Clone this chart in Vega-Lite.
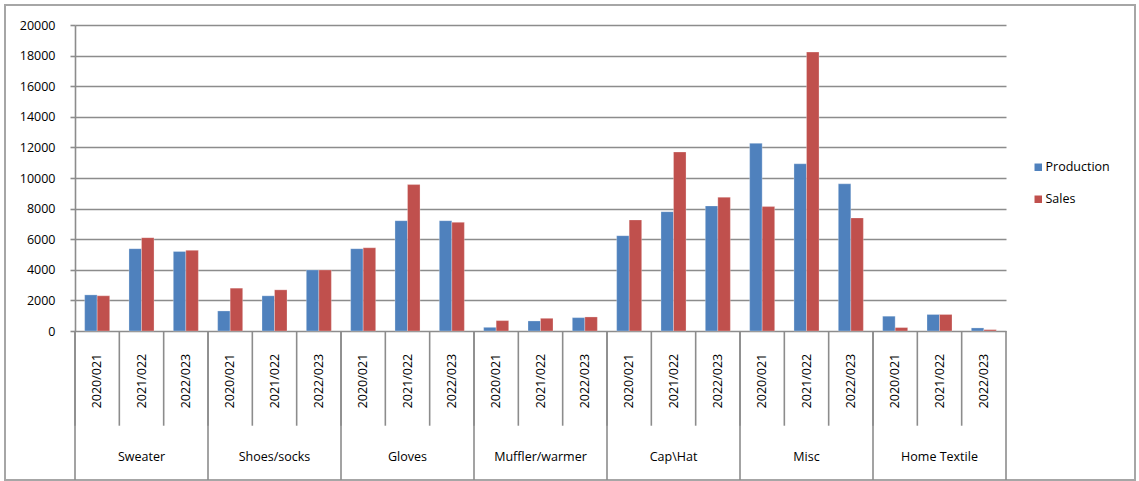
{
  "$schema": "https://vega.github.io/schema/vega-lite/v6.json",
  "autosize": "none",
  "width": 1130,
  "height": 475,
  "padding": {"left": 5, "top": 5, "right": 4, "bottom": 1},
  "background": "white",
  "config": {
    "view": {"stroke": "#a6a6a6", "strokeWidth": 2},
    "font": "Open Sans"
  },
  "datasets": {
    "bars": [
      {"slot": "Sweater|2020/021", "series": "Production", "value": 2360},
      {"slot": "Sweater|2020/021", "series": "Sales", "value": 2300},
      {"slot": "Sweater|2021/022", "series": "Production", "value": 5380},
      {"slot": "Sweater|2021/022", "series": "Sales", "value": 6100},
      {"slot": "Sweater|2022/023", "series": "Production", "value": 5200},
      {"slot": "Sweater|2022/023", "series": "Sales", "value": 5270},
      {"slot": "Shoes/socks|2020/021", "series": "Production", "value": 1310},
      {"slot": "Shoes/socks|2020/021", "series": "Sales", "value": 2800},
      {"slot": "Shoes/socks|2021/022", "series": "Production", "value": 2300},
      {"slot": "Shoes/socks|2021/022", "series": "Sales", "value": 2690},
      {"slot": "Shoes/socks|2022/023", "series": "Production", "value": 3990},
      {"slot": "Shoes/socks|2022/023", "series": "Sales", "value": 3990},
      {"slot": "Gloves|2020/021", "series": "Production", "value": 5380},
      {"slot": "Gloves|2020/021", "series": "Sales", "value": 5440},
      {"slot": "Gloves|2021/022", "series": "Production", "value": 7210},
      {"slot": "Gloves|2021/022", "series": "Sales", "value": 9570},
      {"slot": "Gloves|2022/023", "series": "Production", "value": 7210},
      {"slot": "Gloves|2022/023", "series": "Sales", "value": 7100},
      {"slot": "Muffler/warmer|2020/021", "series": "Production", "value": 240},
      {"slot": "Muffler/warmer|2020/021", "series": "Sales", "value": 680},
      {"slot": "Muffler/warmer|2021/022", "series": "Production", "value": 656},
      {"slot": "Muffler/warmer|2021/022", "series": "Sales", "value": 830},
      {"slot": "Muffler/warmer|2022/023", "series": "Production", "value": 874},
      {"slot": "Muffler/warmer|2022/023", "series": "Sales", "value": 918},
      {"slot": "Cap\\Hat|2020/021", "series": "Production", "value": 6230},
      {"slot": "Cap\\Hat|2020/021", "series": "Sales", "value": 7260},
      {"slot": "Cap\\Hat|2021/022", "series": "Production", "value": 7800},
      {"slot": "Cap\\Hat|2021/022", "series": "Sales", "value": 11700},
      {"slot": "Cap\\Hat|2022/023", "series": "Production", "value": 8175},
      {"slot": "Cap\\Hat|2022/023", "series": "Sales", "value": 8745},
      {"slot": "Misc|2020/021", "series": "Production", "value": 12265},
      {"slot": "Misc|2020/021", "series": "Sales", "value": 8130},
      {"slot": "Misc|2021/022", "series": "Production", "value": 10930},
      {"slot": "Misc|2021/022", "series": "Sales", "value": 18230},
      {"slot": "Misc|2022/023", "series": "Production", "value": 9620},
      {"slot": "Misc|2022/023", "series": "Sales", "value": 7390},
      {"slot": "Home Textile|2020/021", "series": "Production", "value": 967},
      {"slot": "Home Textile|2020/021", "series": "Sales", "value": 225},
      {"slot": "Home Textile|2021/022", "series": "Production", "value": 1080},
      {"slot": "Home Textile|2021/022", "series": "Sales", "value": 1080},
      {"slot": "Home Textile|2022/023", "series": "Production", "value": 200},
      {"slot": "Home Textile|2022/023", "series": "Sales", "value": 90}
    ],
    "slots": [
      {"slot": "Sweater|2020/021", "group": "Sweater", "year": "2020/021"},
      {"slot": "Sweater|2021/022", "group": "Sweater", "year": "2021/022"},
      {"slot": "Sweater|2022/023", "group": "Sweater", "year": "2022/023"},
      {"slot": "Shoes/socks|2020/021", "group": "Shoes/socks", "year": "2020/021"},
      {"slot": "Shoes/socks|2021/022", "group": "Shoes/socks", "year": "2021/022"},
      {"slot": "Shoes/socks|2022/023", "group": "Shoes/socks", "year": "2022/023"},
      {"slot": "Gloves|2020/021", "group": "Gloves", "year": "2020/021"},
      {"slot": "Gloves|2021/022", "group": "Gloves", "year": "2021/022"},
      {"slot": "Gloves|2022/023", "group": "Gloves", "year": "2022/023"},
      {"slot": "Muffler/warmer|2020/021", "group": "Muffler/warmer", "year": "2020/021"},
      {"slot": "Muffler/warmer|2021/022", "group": "Muffler/warmer", "year": "2021/022"},
      {"slot": "Muffler/warmer|2022/023", "group": "Muffler/warmer", "year": "2022/023"},
      {"slot": "Cap\\Hat|2020/021", "group": "Cap\\Hat", "year": "2020/021"},
      {"slot": "Cap\\Hat|2021/022", "group": "Cap\\Hat", "year": "2021/022"},
      {"slot": "Cap\\Hat|2022/023", "group": "Cap\\Hat", "year": "2022/023"},
      {"slot": "Misc|2020/021", "group": "Misc", "year": "2020/021"},
      {"slot": "Misc|2021/022", "group": "Misc", "year": "2021/022"},
      {"slot": "Misc|2022/023", "group": "Misc", "year": "2022/023"},
      {"slot": "Home Textile|2020/021", "group": "Home Textile", "year": "2020/021"},
      {"slot": "Home Textile|2021/022", "group": "Home Textile", "year": "2021/022"},
      {"slot": "Home Textile|2022/023", "group": "Home Textile", "year": "2022/023"}
    ]
  },
  "layer": [
    {
      "data": {"name": "bars"},
      "mark": {"type": "bar", "stroke": "#ffffff", "strokeOpacity": 0.35, "strokeWidth": 0.8},
      "encoding": {
        "x": {
          "field": "slot", "type": "nominal", "sort": null,
          "scale": {"range": [70, 1001], "paddingInner": 0, "paddingOuter": 0},
          "axis": null
        },
        "xOffset": {
          "field": "series", "type": "nominal",
          "scale": {"paddingInner": 0, "paddingOuter": 0.77}
        },
        "y": {
          "field": "value", "type": "quantitative",
          "scale": {"domain": [0, 20000], "range": [326, 20], "nice": false, "zero": true},
          "axis": {
            "title": null,
            "values": [0, 2000, 4000, 6000, 8000, 10000, 12000, 14000, 16000, 18000, 20000],
            "format": "d",
            "offset": -70,
            "grid": true,
            "gridColor": "#8c8c8c",
            "gridWidth": 1.6,
            "domainColor": "#8c8c8c",
            "domainWidth": 1.6,
            "tickColor": "#8c8c8c",
            "tickWidth": 1.6,
            "tickSize": 5,
            "labelPadding": 15,
            "labelFontSize": 12.5,
            "labelColor": "#000000",
            "labelFont": "Open Sans"
          }
        },
        "color": {
          "field": "series", "type": "nominal",
          "scale": {"domain": ["Production", "Sales"], "range": ["#4F81BD", "#C0504D"]},
          "legend": {
            "title": null,
            "orient": "none",
            "legendX": 1027,
            "legendY": 156,
            "symbolType": "square",
            "symbolSize": 56,
            "symbolStrokeWidth": 0,
            "labelFontSize": 12.5,
            "labelFont": "Open Sans",
            "labelColor": "#000000",
            "labelOffset": 1,
            "rowPadding": 19
          }
        }
      }
    },
    {
      "data": {"name": "slots"},
      "mark": {"type": "rule", "color": "#8c8c8c", "strokeWidth": 1.6},
      "encoding": {
        "x": {"field": "slot", "type": "nominal", "sort": null, "bandPosition": 0},
        "y": {"datum": 0},
        "y2": {"datum": -6190}
      }
    },
    {
      "data": {"name": "slots"},
      "transform": [{"filter": "datum.year === '2020/021'"}],
      "mark": {"type": "rule", "color": "#8c8c8c", "strokeWidth": 1.6},
      "encoding": {
        "x": {"field": "slot", "type": "nominal", "sort": null, "bandPosition": 0},
        "y": {"datum": 0},
        "y2": {"datum": -9739}
      }
    },
    {
      "data": {"name": "slots"},
      "transform": [{"filter": "datum.slot === 'Home Textile|2022/023'"}],
      "mark": {"type": "rule", "color": "#8c8c8c", "strokeWidth": 1.6},
      "encoding": {
        "x": {"field": "slot", "type": "nominal", "sort": null, "bandPosition": 1},
        "y": {"datum": 0},
        "y2": {"datum": -9739}
      }
    },
    {
      "data": {"name": "slots"},
      "mark": {"type": "text", "angle": 270, "align": "center", "baseline": "middle", "fontSize": 12.5, "font": "Open Sans", "color": "#000000"},
      "encoding": {
        "x": {"field": "slot", "type": "nominal", "sort": null, "bandPosition": 0.5},
        "y": {"datum": -3270},
        "text": {"field": "year"}
      }
    },
    {
      "data": {"name": "slots"},
      "transform": [{"filter": "datum.year === '2021/022'"}],
      "mark": {"type": "text", "align": "center", "baseline": "middle", "fontSize": 12.5, "font": "Open Sans", "color": "#000000"},
      "encoding": {
        "x": {"field": "slot", "type": "nominal", "sort": null, "bandPosition": 0.5},
        "y": {"datum": -8215},
        "text": {"field": "group"}
      }
    }
  ]
}
